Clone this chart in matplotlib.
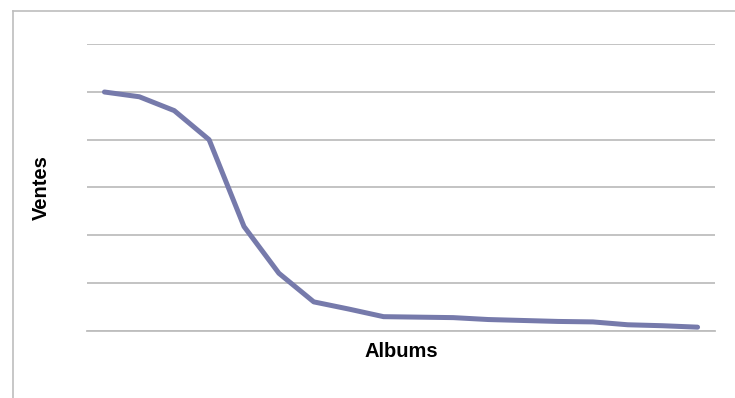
import matplotlib.pyplot as plt
from matplotlib.lines import Line2D

# ventes par album, classées par ordre décroissant
albums = list(range(1, 19))
ventes = [5.00, 4.90, 4.61, 4.00, 2.18, 1.20, 0.60, 0.45, 0.29,
          0.28, 0.27, 0.23, 0.21, 0.19, 0.18, 0.12, 0.10, 0.07]

LINE_COLOR = '#767AAB'
GRID_COLOR = '#BEBEBE'

plt.rcParams['font.family'] = ['Liberation Sans', 'DejaVu Sans']

fig = plt.figure(figsize=(7.35, 3.98), dpi=100)
ax = fig.add_axes([87 / 735, 67.5 / 398, 628 / 735, 286.2 / 398])

x = list(range(len(albums)))
ax.plot(x, ventes, color=LINE_COLOR, linewidth=3.6, solid_capstyle='round',
        solid_joinstyle='round', zorder=3)

ax.set_xlim(-0.5, len(albums) - 0.5)
ax.set_ylim(0, 6)
ax.set_yticks(range(0, 7))
ax.set_xticks([])
ax.tick_params(left=False, labelleft=False)
ax.grid(axis='y', color=GRID_COLOR, linewidth=1.3)
for side in ['top', 'right', 'left']:
    ax.spines[side].set_visible(False)
ax.spines['bottom'].set_color(GRID_COLOR)
ax.spines['bottom'].set_linewidth(1.3)
ax.set_axisbelow(True)

ax.set_ylabel('Ventes', fontsize=14.5, fontweight='bold', labelpad=26)
ax.set_xlabel('Albums', fontsize=14.5, fontweight='bold', labelpad=8)

# cadre du graphique
top = 1 - 10.5 / 398
left = 12.5 / 735
fig.add_artist(Line2D([left, 1.0], [top, top], color=GRID_COLOR, linewidth=1.2))
fig.add_artist(Line2D([left, left], [0, top], color=GRID_COLOR, linewidth=1.2))

plt.savefig('out.png', dpi=100)
